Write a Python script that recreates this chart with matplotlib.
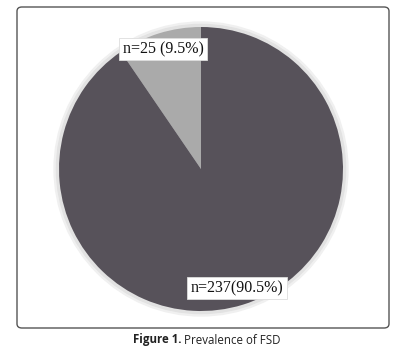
import matplotlib.pyplot as plt
from matplotlib.patches import FancyBboxPatch, Circle

# Data
counts = [25, 237]
percents = [9.5, 90.5]
seps = [" ", ""]
colors = ["#aaaaaa", "#57525a"]
caption_bold = "Figure 1."
caption_text = " Prevalence of FSD"

W, H = 411, 353
fig = plt.figure(figsize=(W / 100, H / 100), dpi=100)
fig.patch.set_facecolor("white")

# rounded frame round the chart
frame = FancyBboxPatch((17 / W, (H - 328) / H), 372 / W, 321 / H,
                       boxstyle="round,pad=0,rounding_size=0.012",
                       transform=fig.transFigure, facecolor="none",
                       edgecolor="#555555", linewidth=1.0, zorder=5)
fig.patches.append(frame)

cx, cy, r = 201, 169, 142
pad = 8
ax = fig.add_axes([(cx - r - pad) / W, (H - cy - r - pad) / H,
                   2 * (r + pad) / W, 2 * (r + pad) / H])
lim = (r + pad) / r
ax.set_xlim(-lim, lim)
ax.set_ylim(-lim, lim)
ax.set_aspect("equal")
ax.axis("off")

# soft halo behind the pie
for rr, c in [(1.035, "#f0f0f0"), (1.018, "#e2e2e2")]:
    ax.add_patch(Circle((0, 0), rr, color=c, zorder=0))

wedges, _ = ax.pie(counts, colors=colors, startangle=90, counterclock=True,
                   radius=1, frame=False)
for w in wedges:
    w.set_zorder(1)
ax.set_xlim(-lim, lim)
ax.set_ylim(-lim, lim)

labels = [f"n={n}{s}({p}%)" for n, s, p in zip(counts, seps, percents)]
label_pos = [(-0.268, 0.845), (0.254, -0.838)]
for lab, (x, y) in zip(labels, label_pos):
    ax.text(x, y, lab, ha="center", va="center", fontsize=11.5,
            family="Liberation Serif", color="#111111", zorder=3,
            bbox=dict(boxstyle="square,pad=0.2", facecolor="white",
                      edgecolor="#dddddd", linewidth=0.6))

# caption below the frame
fs = 8.3
t1 = fig.text(0.5, (H - 340) / H, caption_bold + caption_text, ha="center",
              va="center", fontsize=fs, family="Open Sans", alpha=0)
fig.canvas.draw()
bb = t1.get_window_extent()
t1.remove()
x0 = bb.x0 / W
tb = fig.text(x0, (H - 340) / H, caption_bold, ha="left", va="center",
              fontsize=fs, family="Open Sans", fontweight="bold", color="#222222")
fig.canvas.draw()
bb2 = tb.get_window_extent()
fig.text(bb2.x1 / W, (H - 340) / H, caption_text, ha="left", va="center",
         fontsize=fs, family="Open Sans", color="#222222")

fig.savefig("out.png", dpi=100)
